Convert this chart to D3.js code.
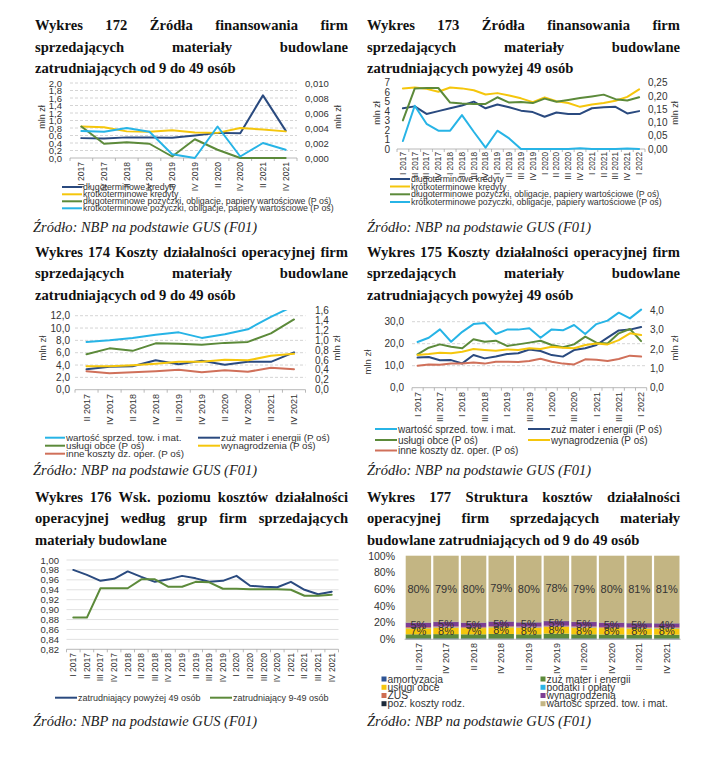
<!DOCTYPE html>
<html><head><meta charset="utf-8">
<script src="https://cdn.jsdelivr.net/npm/d3@7"></script>
<style>
body{margin:0;background:#fff}
svg{display:block}
.ttl{font-family:"Liberation Serif","Times New Roman",serif;font-weight:bold;font-size:14.6px;fill:#111}
.src{font-family:"Liberation Serif","Times New Roman",serif;font-style:italic;font-size:14.5px;fill:#222}
.ax text{font-family:"Liberation Sans",Arial,sans-serif;fill:#333}
.lg{font-family:"Liberation Sans",Arial,sans-serif;fill:#333}
</style>
</head><body>
<svg id="c" width="702" height="768"></svg>
<script>
// ---------------- DATA ----------------
const q10 = ["II 2017","IV 2017","II 2018","IV 2018","II 2019","IV 2019","II 2020","IV 2020","II 2021","IV 2021"];
const q21 = ["I 2017","II 2017","III 2017","IV 2017","I 2018","II 2018","III 2018","IV 2018","I 2019","II 2019","III 2019","IV 2019","I 2020","II 2020","III 2020","IV 2020","I 2021","II 2021","III 2021","IV 2021","I 2022"];
const q20 = ["I 2017","II 2017","III 2017","IV 2017","I 2018","II 2018","III 2018","IV 2018","I 2019","II 2019","III 2019","IV 2019","I 2020","II 2020","III 2020","IV 2020","I 2021","II 2021","III 2021","IV 2021"];

const finNames = ["długoterminowe kredyty","krótkoterminowe kredyty","długoterminowe pożyczki, obligacje, papiery wartościowe (P oś)","krótkoterminowe pożyczki, obligacje, papiery wartościowe (P oś)"];
const costNames = ["wartość sprzed. tow. i mat.","zuż mater i energii (P oś)","usługi obce (P oś)","wynagrodzenia (P oś)","inne koszty dz. oper. (P oś)"];

// Wykres 172 (mln zł; P oś)
const w172_dlugKred = [0.53,0.52,0.55,0.55,0.54,0.60,0.67,0.66,1.67,0.73];
const w172_krotKred = [0.84,0.82,0.71,0.70,0.74,0.68,0.67,0.80,0.76,0.71];
const w172_dlugPoz  = [0.0042,0.0019,0.0021,0.0019,0.0002,0.0025,0.0011,0.0000,0.0000,0.0000];
const w172_krotPoz  = [0.0036,0.0035,0.0040,0.0035,0.0005,0.0000,0.0042,0.0002,0.0020,0.0011];
const w172_ticksL = [0,0.2,0.4,0.6,0.8,1.0,1.2,1.4,1.6,1.8,2.0];
const w172_ticksR = [0,0.002,0.004,0.006,0.008,0.010];

// Wykres 173
const w173_dlugKred = [4.3,4.5,3.7,4.0,4.3,4.6,5.0,4.3,4.7,4.4,4.05,3.9,3.4,3.85,3.7,3.7,4.3,4.4,4.45,3.75,4.0];
const w173_krotKred = [6.4,6.5,6.35,6.05,6.5,6.4,6.2,5.75,5.9,5.65,5.35,4.95,5.45,5.05,4.85,4.45,4.7,4.85,5.1,5.5,6.3];
const w173_dlugPoz  = [0.108,0.228,0.23,0.23,0.175,0.172,0.17,0.17,0.195,0.175,0.177,0.173,0.19,0.178,0.185,0.192,0.198,0.205,0.188,0.183,0.195];
const w173_krotPoz  = [0.030,0.163,0.095,0.069,0.069,0.128,0.065,0.005,0.069,0.040,0.000,0.000,0.000,0.000,0.000,0.003,0.000,0.000,0.000,0.002,0.000];
const w173_ticksL = [0,1,2,3,4,5,6,7];
const w173_ticksR = [0,0.05,0.10,0.15,0.20,0.25];

// Wykres 174
const w174_wartosc = [7.75,8.0,8.4,8.9,9.3,8.4,9.0,9.8,11.8,13.6];
const w174_zuz     = [0.41,0.46,0.47,0.59,0.51,0.58,0.50,0.56,0.56,0.75];
const w174_uslugi  = [0.71,0.83,0.78,0.93,0.92,0.90,0.94,0.96,1.13,1.41];
const w174_wyn     = [0.47,0.47,0.49,0.52,0.56,0.56,0.60,0.59,0.68,0.72];
const w174_inne    = [0.37,0.33,0.35,0.37,0.40,0.35,0.39,0.36,0.44,0.41];
const w174_ticksL = [0,2,4,6,8,10,12];
const w174_ticksR = [0,0.2,0.4,0.6,0.8,1.0,1.2,1.4,1.6];

// Wykres 175
const w175_wartosc = [20.8,22.7,26.5,20.9,25.4,28.9,29.4,24.4,26.4,26.4,27.0,22.7,26.5,26.1,28.5,24.4,28.9,30.5,34.1,31.5,35.5];
const w175_zuz     = [1.55,1.58,1.41,1.42,1.25,1.68,1.51,1.61,1.73,1.77,1.97,1.89,1.68,1.60,1.94,2.03,2.20,2.58,2.95,2.99,3.12];
const w175_uslugi  = [1.72,2.06,2.23,2.11,2.03,2.49,2.37,2.42,2.15,2.23,2.32,2.42,2.20,2.08,2.23,2.63,2.32,2.28,2.80,3.02,2.40];
const w175_wyn     = [1.68,1.73,1.80,1.77,1.85,1.99,1.94,1.90,1.97,1.94,2.03,1.99,2.11,2.06,2.03,2.20,2.28,2.23,2.45,2.80,2.71];
const w175_inne    = [1.13,1.20,1.18,1.25,1.24,1.30,1.24,1.34,1.34,1.32,1.37,1.49,1.34,1.24,1.20,1.46,1.44,1.37,1.48,1.65,1.60];
const w175_ticksL = [0,10,20,30];
const w175_ticksR = [0,1,2,3,4];

// Wykres 176
const w176_names = ["zatrudniający powyżej 49 osób","zatrudniający 9-49 osób"];
const w176_pow49 = [0.980,0.970,0.958,0.962,0.977,0.966,0.956,0.961,0.968,0.963,0.956,0.958,0.968,0.948,0.946,0.945,0.956,0.940,0.931,0.936];
const w176_9_49  = [0.884,0.884,0.943,0.943,0.943,0.961,0.961,0.946,0.946,0.956,0.955,0.942,0.942,0.941,0.941,0.941,0.940,0.928,0.928,0.930];
const w176_ticks = [0.82,0.84,0.86,0.88,0.90,0.92,0.94,0.96,0.98,1.00];

// Wykres 177 (% struktury)
const w177_names = ["amortyzacja","zuż mater i energii","usługi obce","podatki i opłaty","ZUS","wynagrodzenia","poz. koszty rodz.","wartość sprzed. tow. i mat."];
const w177_amort   = [1.0,1.0,1.0,0.8,1.0,1.0,1.0,1.0,0.9,0.9];
const w177_zuz     = [5.0,5.2,5.0,5.6,5.0,5.8,5.0,4.8,4.6,4.6];
const w177_uslugi  = [7.2,7.8,7.4,8.0,7.8,8.0,8.0,7.6,7.6,7.6];
const w177_podatki = [0.4,0.4,0.4,0.4,0.4,0.4,0.4,0.4,0.4,0.4];
const w177_zus     = [1.0,1.0,1.0,0.9,1.0,1.0,1.0,1.0,0.9,0.9];
const w177_wyn     = [5.0,5.2,4.8,5.2,4.8,5.4,5.2,4.8,4.6,4.4];
const w177_poz     = [0.4,0.4,0.4,0.4,0.4,0.4,0.4,0.4,0.4,0.4];
const w177_wartosc = [80.0,79.0,80.0,78.7,79.6,78.0,79.0,80.0,80.6,80.8];
const w177_ticks = [0,20,40,60,80,100];

const titles = {
  w172:["Wykres 172 Źródła finansowania firm","sprzedających materiały budowlane","zatrudniających od 9 do 49 osób"],
  w173:["Wykres 173 Źródła finansowania firm","sprzedających materiały budowlane","zatrudniających powyżej 49 osób"],
  w174:["Wykres 174 Koszty działalności operacyjnej firm","sprzedających materiały budowlane","zatrudniających od 9 do 49 osób"],
  w175:["Wykres 175 Koszty działalności operacyjnej firm","sprzedających materiały budowlane","zatrudniających powyżej 49 osób"],
  w176:["Wykres 176 Wsk. poziomu kosztów działalności","operacyjnej według grup firm sprzedających","materiały budowlane"],
  w177:["Wykres 177 Struktura kosztów działalności","operacyjnej firm sprzedających materiały","budowlane zatrudniających od 9 do 49 osób"]
};
const sourceText = "Źródło: NBP na podstawie GUS (F01)";
const unitText = "mln zł";

// ---------------- COLORS ----------------
const C = {navy:"#2a4a7f", yellow:"#f5c60c", green:"#5c8a3a", cyan:"#27b4e6", red:"#d0705a",
  purple:"#7d3e93", khaki:"#c3b583", amort:"#2e5494", poz:"#1c2a3a", zus:"#cf6d50", pod:"#2bb4e6"};

const loc = d3.formatLocale({decimal:",", thousands:"\u00a0", grouping:[3], currency:["",""]});
const svg = d3.select("#c");

// ---------------- HELPERS ----------------
function title(x, y0, width, lines, lh) {
  lines.forEach((ln, i) => {
    const y = y0 + i * lh;
    if (i === lines.length - 1) {
      svg.append("text").attr("class","ttl").attr("x",x).attr("y",y).text(ln);
      return;
    }
    const words = ln.split(" ");
    const lens = words.map(w => {
      const t = svg.append("text").attr("class","ttl").attr("x",0).attr("y",-50).text(w);
      const l = t.node().getComputedTextLength(); t.remove(); return l;
    });
    const gap = Math.max(3, (width - d3.sum(lens)) / (words.length - 1));
    let cx = x;
    words.forEach((w, j) => {
      svg.append("text").attr("class","ttl").attr("x",cx).attr("y",y).text(w);
      cx += lens[j] + gap;
    });
  });
}
function source(x, y) {
  svg.append("text").attr("class","src").attr("x",x).attr("y",y).text(sourceText);
}
function unitLabel(x, y, fs) {
  svg.append("text").attr("class","lg").attr("font-size",fs)
    .attr("transform",`translate(${x},${y}) rotate(-90)`).attr("text-anchor","middle")
    .attr("dy","0.35em").text(unitText);
}

let clipId = 0;
function linePanel(o) {
  const g = svg.append("g");
  const x = d3.scaleBand().domain(o.cats).range(o.xr).padding(0);
  const [x0, x1] = o.xr;
  const y0 = o.yL.range()[0];
  if (o.grid) {
    g.append("g").selectAll("line").data(o.ticksL.filter(t => t !== o.ticksL[0])).join("line")
      .attr("x1",x0).attr("x2",x1).attr("y1",d=>o.yL(d)).attr("y2",d=>o.yL(d))
      .attr("stroke", o.grid === "solid" ? "#d9d9d9" : "#c9c9c9")
      .attr("stroke-width",0.8)
      .attr("stroke-dasharray", o.grid === "solid" ? null : "3,2");
  }
  g.append("line").attr("x1",x0).attr("x2",x1).attr("y1",y0).attr("y2",y0).attr("stroke","#a6a6a6").attr("stroke-width",0.8);
  const bounds = o.cats.map(c => x(c)).concat([x1]);
  g.append("g").selectAll("line").data(bounds).join("line")
    .attr("x1",d=>d).attr("x2",d=>d).attr("y1",y0).attr("y2",y0+3).attr("stroke","#a6a6a6").attr("stroke-width",0.8);
  const axL = g.append("g").attr("class","ax").attr("transform",`translate(${o.lx},0)`)
    .call(d3.axisLeft(o.yL).tickValues(o.ticksL).tickFormat(o.fmtL).tickSize(0).tickPadding(0));
  axL.select(".domain").remove();
  axL.selectAll("text").attr("font-size",o.tfs);
  if (o.yR) {
    const axR = g.append("g").attr("class","ax").attr("transform",`translate(${o.rx},0)`)
      .call(d3.axisRight(o.yR).tickValues(o.ticksR).tickFormat(o.fmtR).tickSize(0).tickPadding(0));
    axR.select(".domain").remove();
    axR.selectAll("text").attr("font-size",o.tfs);
  }
  const labCats = o.labelCats || o.cats;
  g.append("g").selectAll("text").data(labCats).join("text")
    .attr("class","lg").attr("font-size",o.cfs)
    .attr("transform",d=>`translate(${x(d)+x.bandwidth()/2},${o.cy}) rotate(-90)`)
    .attr("text-anchor","end").attr("dy","0.35em").text(d=>d);
  const id = "clip" + (clipId++);
  svg.append("clipPath").attr("id",id).append("rect")
    .attr("x",x0-5).attr("y",o.clipTop).attr("width",x1-x0+10).attr("height",y0-o.clipTop+5);
  const lg = g.append("g").attr("clip-path",`url(#${id})`);
  o.series.forEach(s => {
    const ys = s.axis === "R" ? o.yR : o.yL;
    const line = d3.line().x((d,i)=>x(o.cats[i])+x.bandwidth()/2).y(d=>ys(d));
    lg.append("path").attr("d",line(s.values)).attr("fill","none").attr("stroke",s.color)
      .attr("stroke-width",2).attr("stroke-linejoin","round").attr("stroke-linecap","round");
  });
  o.legend.forEach((L) => {
    const s = o.series[L.i];
    g.append("line").attr("x1",L.x).attr("x2",L.x+L.w).attr("y1",L.y).attr("y2",L.y)
      .attr("stroke",s.color).attr("stroke-width",2);
    g.append("text").attr("class","lg").attr("font-size",o.lfs).attr("x",L.x+L.w+1).attr("y",L.y)
      .attr("dy","0.35em").text(s.name);
  });
}

// ---------------- TITLES & SOURCES ----------------
title(35, 30, 313, titles.w172, 21.6);
title(367, 30, 313, titles.w173, 21.6);
title(35, 257, 313, titles.w174, 21.3);
title(367, 257, 313, titles.w175, 21.3);
title(35, 502, 313, titles.w176, 21.3);
title(367, 502, 313, titles.w177, 21.3);
source(33, 232); source(367, 232);
source(33, 475); source(367, 475);
source(33, 726); source(367, 726);

// ---------------- W172 ----------------
linePanel({
  cats:q10, xr:[70,297], yL:d3.scaleLinear([0,2],[158,83]), yR:d3.scaleLinear([0,0.01],[158,83]),
  ticksL:w172_ticksL, ticksR:w172_ticksR, fmtL:loc.format(".1f"), fmtR:loc.format(".3f"),
  lx:62, rx:305, tfs:9.5, cfs:8.5, lfs:8.8, cy:162, grid:"dash", clipTop:75,
  series:[
    {name:finNames[0], values:w172_dlugKred, color:C.navy, axis:"L"},
    {name:finNames[1], values:w172_krotKred, color:C.yellow, axis:"L"},
    {name:finNames[2], values:w172_dlugPoz, color:C.green, axis:"R"},
    {name:finNames[3], values:w172_krotPoz, color:C.cyan, axis:"R"}],
  legend:[{i:0,x:62,y:187,w:20},{i:1,x:62,y:194.3,w:20},{i:2,x:62,y:201.3,w:20},{i:3,x:62,y:208.3,w:20}]
});
unitLabel(42, 117, 9); unitLabel(338, 117, 9);

// ---------------- W173 ----------------
linePanel({
  cats:q21, xr:[397,645], yL:d3.scaleLinear([0,7],[149,82.7]), yR:d3.scaleLinear([0,0.25],[149,82.7]),
  ticksL:w173_ticksL, ticksR:w173_ticksR, fmtL:loc.format("d"), fmtR:loc.format(".2f"),
  lx:390, rx:648, tfs:10, cfs:8.3, lfs:8.8, cy:152, grid:null, clipTop:75,
  series:[
    {name:finNames[0], values:w173_dlugKred, color:C.navy, axis:"L"},
    {name:finNames[1], values:w173_krotKred, color:C.yellow, axis:"L"},
    {name:finNames[2], values:w173_dlugPoz, color:C.green, axis:"R"},
    {name:finNames[3], values:w173_krotPoz, color:C.cyan, axis:"R"}],
  legend:[{i:0,x:390,y:179,w:20},{i:1,x:390,y:186.5,w:20},{i:2,x:390,y:194.3,w:20},{i:3,x:390,y:202,w:20}]
});
unitLabel(377, 113, 9); unitLabel(675, 113, 9);

// ---------------- W174 ----------------
linePanel({
  cats:q10, xr:[75,305.5], yL:d3.scaleLinear([0,12],[389.7,315.7]), yR:d3.scaleLinear([0,1.6],[389.7,310]),
  ticksL:w174_ticksL, ticksR:w174_ticksR, fmtL:loc.format(".1f"), fmtR:loc.format(".1f"),
  lx:70, rx:315, tfs:10, cfs:9, lfs:9.8, cy:394, grid:"dash", clipTop:310,
  series:[
    {name:costNames[0], values:w174_wartosc, color:C.cyan, axis:"L"},
    {name:costNames[1], values:w174_zuz, color:C.navy, axis:"R"},
    {name:costNames[2], values:w174_uslugi, color:C.green, axis:"R"},
    {name:costNames[3], values:w174_wyn, color:C.yellow, axis:"R"},
    {name:costNames[4], values:w174_inne, color:C.red, axis:"R"}],
  legend:[{i:0,x:45,y:437.7,w:20},{i:1,x:198,y:437.7,w:22},{i:2,x:45,y:445.7,w:20},{i:3,x:198,y:445.7,w:22},{i:4,x:45,y:453.7,w:20}]
});
unitLabel(43, 348, 9.5); unitLabel(337, 348, 9.5);

// ---------------- W175 ----------------
linePanel({
  cats:q21, labelCats:q21.filter((d,i)=>i%2===0), xr:[412,646.7],
  yL:d3.scaleLinear([0,30],[387.7,321.7]), yR:d3.scaleLinear([0,4],[387.7,310]),
  ticksL:w175_ticksL, ticksR:w175_ticksR, fmtL:loc.format(".1f"), fmtR:loc.format(".1f"),
  lx:404, rx:650, tfs:10, cfs:9, lfs:10, cy:392, grid:"dash", clipTop:308,
  series:[
    {name:costNames[0], values:w175_wartosc, color:C.cyan, axis:"L"},
    {name:costNames[1], values:w175_zuz, color:C.navy, axis:"R"},
    {name:costNames[2], values:w175_uslugi, color:C.green, axis:"R"},
    {name:costNames[3], values:w175_wyn, color:C.yellow, axis:"R"},
    {name:costNames[4], values:w175_inne, color:C.red, axis:"R"}],
  legend:[{i:0,x:375,y:429,w:22},{i:1,x:528,y:429,w:22},{i:2,x:375,y:440,w:22},{i:3,x:528,y:440,w:22},{i:4,x:375,y:450.5,w:22}]
});
unitLabel(368, 362, 9.5); unitLabel(675, 348, 9.5);

// ---------------- W176 ----------------
linePanel({
  cats:q20, xr:[66.5,338.5], yL:d3.scaleLinear([0.82,1.0],[649.3,560]), yR:null,
  ticksL:w176_ticks, fmtL:loc.format(".2f"),
  lx:59, tfs:9.5, cfs:8.5, lfs:9, cy:653, grid:"solid", clipTop:550,
  series:[
    {name:w176_names[0], values:w176_pow49, color:C.navy, axis:"L"},
    {name:w176_names[1], values:w176_9_49, color:C.green, axis:"L"}],
  legend:[{i:0,x:55,y:697.7,w:22},{i:1,x:210,y:697.7,w:22}]
});

// ---------------- W177 ----------------
(function(){
  const series = [w177_amort,w177_zuz,w177_uslugi,w177_podatki,w177_zus,w177_wyn,w177_poz,w177_wartosc];
  const colors = [C.amort,C.green,C.yellow,C.pod,C.zus,C.purple,C.poz,C.khaki];
  const rows = q10.map((c,i)=>{ const r={cat:c}; series.forEach((s,k)=>r["s"+k]=s[i]); return r; });
  const keys = series.map((s,k)=>"s"+k);
  const stack = d3.stack().keys(keys)(rows);
  const x = d3.scaleBand().domain(q10).range([404.6,680.6]).paddingInner(0.08).paddingOuter(0.04);
  const y = d3.scaleLinear([0,100],[639.3,555.7]);
  const g = svg.append("g");
  stack.forEach((layer,k)=>{
    g.append("g").selectAll("rect").data(layer).join("rect")
      .attr("x",d=>x(d.data.cat)).attr("width",x.bandwidth())
      .attr("y",d=>y(d[1])).attr("height",d=>y(d[0])-y(d[1]))
      .attr("fill",colors[k]);
  });
  g.append("line").attr("x1",404.6).attr("x2",680.6).attr("y1",639.3).attr("y2",639.3).attr("stroke","#a6a6a6").attr("stroke-width",0.8);
  const ax = g.append("g").attr("class","ax").attr("transform","translate(395,0)")
    .call(d3.axisLeft(y).tickValues(w177_ticks).tickFormat(d=>d+"%").tickSize(0).tickPadding(0));
  ax.select(".domain").remove();
  ax.selectAll("text").attr("font-size",10.5);
  [2,5,7].forEach(k=>{
    g.append("g").selectAll("text").data(stack[k]).join("text")
      .attr("class","lg").attr("font-size",11).attr("text-anchor","middle").attr("dy","0.35em")
      .attr("x",d=>x(d.data.cat)+x.bandwidth()/2).attr("y",d=>y((d[0]+d[1])/2))
      .attr("fill","#222").text(d=>Math.round(d[1]-d[0])+"%");
  });
  g.append("g").selectAll("text").data(q10).join("text")
    .attr("class","lg").attr("font-size",9)
    .attr("transform",d=>`translate(${x(d)+x.bandwidth()/2},643) rotate(-90)`)
    .attr("text-anchor","end").attr("dy","0.35em").text(d=>d);
  const lgPos = [[381.5,679],[540.5,679],[381.5,687.3],[540.5,687.3],[381.5,695.5],[540.5,695.5],[381.5,703.7],[540.5,703.7]];
  w177_names.forEach((n,k)=>{
    const [lx,ly] = lgPos[k];
    g.append("rect").attr("x",lx).attr("y",ly-2.5).attr("width",5).attr("height",5).attr("fill",colors[k]);
    g.append("text").attr("class","lg").attr("font-size",10.3).attr("x",lx+6).attr("y",ly).attr("dy","0.35em").text(n);
  });
})();
</script>
</body></html>
